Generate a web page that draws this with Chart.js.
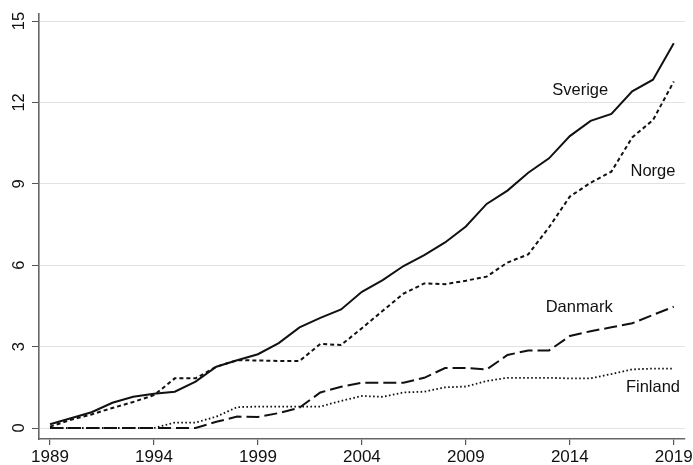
<!DOCTYPE html>
<html>
<head>
<meta charset="utf-8">
<script src="https://cdn.jsdelivr.net/npm/chart.js@4.4.1/dist/chart.umd.min.js"></script>
<style>
    html, body { margin: 0; padding: 0; background: #fff; }
</style>
</head>
<body>
<canvas id="chart" width="693" height="465"></canvas>
<script>
var years = [1989, 1990, 1991, 1992, 1993, 1994, 1995, 1996, 1997, 1998,
             1999, 2000, 2001, 2002, 2003, 2004, 2005, 2006, 2007, 2008,
             2009, 2010, 2011, 2012, 2013, 2014, 2015, 2016, 2017, 2018, 2019];

var sverige = [0.14, 0.36, 0.58, 0.93, 1.15, 1.26, 1.34, 1.71, 2.26, 2.5,
               2.72, 3.13, 3.71, 4.06, 4.37, 5.02, 5.45, 5.97, 6.37, 6.84,
               7.43, 8.26, 8.75, 9.41, 9.94, 10.76, 11.32, 11.58, 12.41, 12.84, 14.18];

var norge = [0.05, 0.3, 0.5, 0.74, 0.96, 1.21, 1.83, 1.83, 2.26, 2.5,
             2.49, 2.47, 2.47, 3.1, 3.06, 3.68, 4.32, 4.95, 5.33, 5.3,
             5.43, 5.58, 6.1, 6.4, 7.4, 8.53, 9.04, 9.45, 10.71, 11.35, 12.77];

var danmark = [0, 0, 0, 0, 0, 0, 0, 0, 0.23, 0.42,
               0.41, 0.55, 0.75, 1.31, 1.52, 1.67, 1.67, 1.67, 1.85, 2.21,
               2.21, 2.16, 2.69, 2.86, 2.86, 3.39, 3.57, 3.71, 3.86, 4.17, 4.47];

var finland = [0, 0, 0, 0, 0, 0, 0.2, 0.2, 0.42, 0.77,
               0.79, 0.79, 0.79, 0.79, 1.0, 1.18, 1.15, 1.31, 1.34, 1.5,
               1.53, 1.73, 1.85, 1.85, 1.85, 1.83, 1.83, 1.99, 2.16, 2.19, 2.19];

var xTicks = [1989, 1994, 1999, 2004, 2009, 2014, 2019];
var yTicks = [0, 3, 6, 9, 12, 15];

// series names written next to the lines
var labelNames = ['Sverige', 'Norge', 'Danmark', 'Finland'];
var labelYears = [2014.5, 2018.0, 2014.45, 2018.0];
var labelValues = [12.46, 9.45, 4.46, 1.51];

function toPoints(values) {
    var pts = [];
    for (var i = 0; i < years.length; i++) {
        pts.push({ x: years[i], y: values[i] });
    }
    return pts;
}

function line(name, values, dash, width) {
    return {
        label: name,
        data: toPoints(values),
        borderColor: '#111',
        borderWidth: width,
        borderDash: dash,
        borderCapStyle: 'butt',
        pointRadius: 0,
        tension: 0,
        fill: false
    };
}

var seriesLabels = {
    id: 'seriesLabels',
    afterDatasetsDraw: function(chart) {
        var ctx = chart.ctx;
        var xs = chart.scales.x, ys = chart.scales.y;
        ctx.save();
        ctx.font = '16.5px "Liberation Sans", Arial, sans-serif';
        ctx.fillStyle = '#111';
        ctx.textAlign = 'center';
        ctx.textBaseline = 'middle';
        for (var i = 0; i < labelNames.length; i++) {
            ctx.fillText(labelNames[i], xs.getPixelForValue(labelYears[i]), ys.getPixelForValue(labelValues[i]));
        }
        ctx.restore();
    }
};

var ctx = document.getElementById('chart').getContext('2d');
var chart = new Chart(ctx, {
    type: 'line',
    data: {
        datasets: [
            line('Sverige', sverige, [], 2),
            line('Norge', norge, [4, 3], 2),
            line('Danmark', danmark, [13, 5], 2),
            line('Finland', finland, [1.6, 2.4], 1.8)
        ]
    },
    plugins: [seriesLabels],
    options: {
        responsive: false,
        animation: false,
        devicePixelRatio: 1,
        layout: { padding: { top: 14, right: 8, bottom: 0, left: 0 } },
        plugins: {
            legend: { display: false },
            tooltip: { enabled: false }
        },
        scales: {
            x: {
                type: 'linear',
                min: 1988.47,
                max: 2019.54,
                afterBuildTicks: function(scale) {
                    scale.ticks = xTicks.map(function(v) { return { value: v }; });
                },
                afterFit: function(scale) {
                    scale.height = 26;
                    scale.paddingLeft = 0;
                    scale.paddingRight = 0;
                },
                grid: { drawOnChartArea: false, drawTicks: true, tickLength: 6, tickColor: '#555', lineWidth: 1.2 },
                border: { display: true, color: '#666', width: 1.6 },
                ticks: {
                    padding: 2,
                    color: '#111',
                    maxRotation: 0,
                    font: { family: '"Liberation Sans", Arial, sans-serif', size: 17 },
                    callback: function(v) { return String(v); }
                }
            },
            y: {
                min: -0.405,
                max: 15.26,
                afterBuildTicks: function(scale) {
                    scale.ticks = yTicks.map(function(v) { return { value: v }; });
                },
                afterFit: function(scale) { scale.width = 39; },
                grid: { color: '#e2e2e2', lineWidth: 1, tickLength: 7, tickColor: '#555' },
                border: { display: true, color: '#666', width: 1.6 },
                ticks: {
                    padding: 3,
                    color: '#111',
                    minRotation: 90,
                    maxRotation: 90,
                    crossAlign: 'center',
                    font: { family: '"Liberation Sans", Arial, sans-serif', size: 16.5 }
                }
            }
        }
    }
});
</script>
</body>
</html>
